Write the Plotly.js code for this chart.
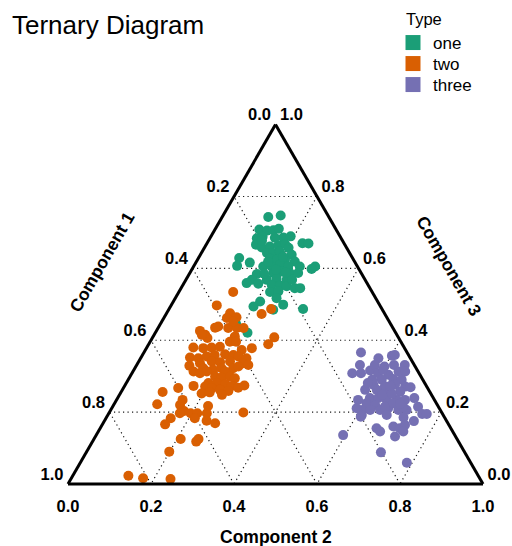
<!DOCTYPE html>
<html>
<head>
<meta charset="utf-8">
<script src="https://cdn.plot.ly/plotly-3.0.1.min.js"></script>
<style>
  html, body { margin: 0; padding: 0; background: #ffffff; }
  #chart { width: 512px; height: 546px; }
</style>
</head>
<body>
<div id="chart"></div>
<script>
// Composition of each sample: Component 1 (bottom-left corner),
// Component 2 (bottom-right corner), Component 3 (top corner).

const typeNames = ["one", "two", "three"];
const typeColors = ["#1b9e77", "#d95f02", "#7570b3"];

// axis ticks, shared by the three sides
const tickPos = [0, 0.2, 0.4, 0.6, 0.8, 1];
const tickLabels = ["0.0", "0.2", "0.4", "0.6", "0.8", "1.0"];
const gridVals = [0.2, 0.4, 0.6, 0.8];

// Type "one"
const oneComp1 = [0.146,0.114,0.185,0.168,0.152,0.137,0.203,0.187,0.138,0.119,0.214,0.204,0.183,0.161,0.143,0.140,0.100,0.086,0.199,0.184,0.166,0.142,0.273,0.200,0.185,0.165,0.144,0.254,0.289,0.227,0.207,0.184,0.167,0.139,0.102,0.114,0.253,0.212,0.190,0.172,0.152,0.273,0.237,0.212,0.189,0.290,0.263,0.232,0.213,0.198,0.181,0.168,0.246,0.225,0.283,0.306,0.232,0.190,0.263,0.372,0.357,0.239,0.194,0.159,0.209,0.166,0.201,0.176,0.235,0.181];
const oneComp2 = [0.111,0.139,0.107,0.127,0.142,0.153,0.113,0.125,0.176,0.192,0.120,0.138,0.156,0.175,0.189,0.203,0.230,0.245,0.158,0.173,0.187,0.220,0.098,0.173,0.191,0.211,0.237,0.130,0.104,0.168,0.188,0.206,0.228,0.256,0.293,0.288,0.163,0.201,0.219,0.241,0.261,0.159,0.195,0.217,0.243,0.151,0.180,0.214,0.235,0.252,0.274,0.287,0.220,0.239,0.209,0.200,0.269,0.323,0.252,0.182,0.222,0.244,0.129,0.156,0.173,0.202,0.203,0.256,0.180,0.231];
const oneComp3 = [0.743,0.747,0.708,0.705,0.706,0.710,0.684,0.688,0.686,0.689,0.666,0.658,0.661,0.664,0.668,0.657,0.670,0.669,0.643,0.643,0.647,0.638,0.629,0.627,0.624,0.624,0.619,0.616,0.607,0.605,0.605,0.610,0.605,0.605,0.605,0.598,0.584,0.587,0.591,0.587,0.587,0.568,0.568,0.571,0.568,0.559,0.557,0.554,0.552,0.550,0.545,0.545,0.534,0.536,0.508,0.494,0.499,0.487,0.485,0.446,0.421,0.517,0.677,0.685,0.618,0.632,0.596,0.568,0.585,0.588];

// Type "two"
const twoComp1 = [0.335,0.393,0.267,0.297,0.372,0.386,0.362,0.419,0.397,0.376,0.360,0.299,0.393,0.323,0.469,0.462,0.428,0.461,0.508,0.485,0.464,0.443,0.412,0.397,0.395,0.368,0.530,0.511,0.488,0.467,0.441,0.422,0.412,0.395,0.514,0.483,0.464,0.439,0.410,0.543,0.513,0.491,0.469,0.441,0.426,0.400,0.541,0.528,0.509,0.465,0.496,0.482,0.460,0.451,0.521,0.501,0.482,0.469,0.601,0.561,0.534,0.520,0.503,0.484,0.456,0.438,0.644,0.552,0.531,0.505,0.674,0.620,0.607,0.619,0.632,0.606,0.590,0.567,0.554,0.661,0.683,0.603,0.578,0.561,0.666,0.632,0.623,0.711,0.843,0.811,0.746,0.478,0.470,0.376];
const twoComp2 = [0.131,0.110,0.246,0.230,0.153,0.152,0.174,0.143,0.169,0.190,0.206,0.293,0.197,0.288,0.105,0.123,0.137,0.133,0.112,0.137,0.156,0.175,0.192,0.207,0.232,0.254,0.118,0.139,0.157,0.174,0.198,0.219,0.233,0.255,0.150,0.176,0.197,0.220,0.254,0.128,0.165,0.191,0.209,0.237,0.247,0.269,0.146,0.164,0.178,0.222,0.205,0.222,0.241,0.255,0.198,0.218,0.240,0.258,0.132,0.166,0.195,0.213,0.235,0.257,0.276,0.288,0.100,0.196,0.214,0.247,0.104,0.160,0.159,0.178,0.171,0.197,0.213,0.236,0.229,0.156,0.151,0.214,0.246,0.270,0.209,0.250,0.252,0.199,0.134,0.173,0.240,0.323,0.115,0.172];
const twoComp3 = [0.534,0.497,0.487,0.473,0.475,0.462,0.464,0.438,0.434,0.434,0.434,0.408,0.410,0.389,0.426,0.415,0.435,0.406,0.380,0.378,0.380,0.382,0.396,0.396,0.373,0.378,0.352,0.350,0.355,0.359,0.361,0.359,0.355,0.350,0.336,0.341,0.339,0.341,0.336,0.329,0.322,0.318,0.322,0.322,0.327,0.331,0.313,0.308,0.313,0.313,0.299,0.296,0.299,0.294,0.281,0.281,0.278,0.273,0.267,0.273,0.271,0.267,0.262,0.259,0.268,0.274,0.256,0.252,0.255,0.248,0.222,0.220,0.234,0.203,0.197,0.197,0.197,0.197,0.217,0.183,0.166,0.183,0.176,0.169,0.125,0.118,0.125,0.090,0.023,0.016,0.014,0.199,0.415,0.452];

// Type "three"
const threeComp1 = [0.111,0.041,0.033,0.077,0.074,0.049,0.023,0.161,0.140,0.114,0.095,0.099,0.076,0.047,0.031,0.099,0.070,0.051,0.126,0.101,0.074,0.052,0.125,0.096,0.071,0.046,0.153,0.133,0.115,0.091,0.071,0.168,0.150,0.188,0.169,0.145,0.123,0.101,0.081,0.184,0.199,0.196,0.129,0.085,0.103,0.049,0.049,0.038,0.136,0.099,0.079,0.179,0.175,0.136,0.123,0.106,0.119,0.146,0.269,0.202,0.154,0.201,0.040,0.131,0.119,0.153,0.094,0.122,0.082,0.087,0.137,0.088];
const threeComp2 = [0.523,0.602,0.608,0.573,0.599,0.620,0.646,0.531,0.552,0.570,0.574,0.593,0.620,0.640,0.656,0.611,0.638,0.659,0.598,0.628,0.650,0.677,0.613,0.647,0.672,0.715,0.608,0.628,0.651,0.675,0.695,0.607,0.630,0.606,0.625,0.649,0.666,0.693,0.713,0.582,0.590,0.612,0.656,0.700,0.672,0.736,0.756,0.767,0.672,0.716,0.746,0.666,0.679,0.704,0.722,0.730,0.735,0.722,0.595,0.710,0.787,0.612,0.691,0.538,0.633,0.585,0.655,0.588,0.600,0.640,0.582,0.689];
const threeComp3 = [0.366,0.357,0.359,0.350,0.327,0.331,0.331,0.308,0.308,0.316,0.331,0.308,0.304,0.313,0.313,0.290,0.292,0.290,0.276,0.271,0.276,0.271,0.262,0.257,0.257,0.239,0.239,0.239,0.234,0.234,0.234,0.225,0.220,0.206,0.206,0.206,0.211,0.206,0.206,0.234,0.211,0.192,0.215,0.215,0.225,0.215,0.195,0.195,0.192,0.185,0.175,0.155,0.146,0.160,0.155,0.164,0.146,0.132,0.136,0.088,0.059,0.187,0.269,0.331,0.248,0.262,0.251,0.290,0.318,0.273,0.281,0.223];

const groups = [
  { comp1: oneComp1, comp2: oneComp2, comp3: oneComp3 },
  { comp1: twoComp1, comp2: twoComp2, comp3: twoComp3 },
  { comp1: threeComp1, comp2: threeComp2, comp3: threeComp3 }
];

const sans = "Liberation Sans, Arial, Helvetica, sans-serif";
const black = "#000000";
const nbsp = "\u00A0";
const legendIds = ["legend", "legend2", "legend3"];

const traces = [];

// sample points (a = Component 3, b = Component 1, c = Component 2)
groups.forEach((g, i) => {
  traces.push({
    type: "scatterternary",
    mode: "markers",
    name: typeNames[i],
    legendgroup: typeNames[i],
    showlegend: false,
    a: g.comp3,
    b: g.comp1,
    c: g.comp2,
    marker: { color: typeColors[i], size: 10, line: { width: 0 } },
    hoverinfo: "a+b+c+name"
  });
});

// legend entries with square swatches, one legend box per type
typeNames.forEach((name, i) => {
  traces.push({
    type: "scatterternary",
    mode: "markers",
    name: name,
    legendgroup: name,
    legend: legendIds[i],
    showlegend: true,
    a: [null], b: [null], c: [null],
    marker: { color: typeColors[i], size: 15, symbol: "square" },
    hoverinfo: "skip"
  });
});

// tick labels along each side, placed at the side's own tick positions
const tickFont = { family: sans, size: 16.5, color: black, weight: "bold" };
const zeros = tickPos.map(() => 0);
// Component 1 along the left side
traces.push({
  type: "scatterternary", mode: "text", showlegend: false, hoverinfo: "skip", cliponaxis: false,
  a: tickPos.map(t => 1 - t), b: tickPos, c: zeros,
  text: tickLabels.map(s => s + nbsp), textposition: "top left", textfont: tickFont
});
// Component 3 along the right side
traces.push({
  type: "scatterternary", mode: "text", showlegend: false, hoverinfo: "skip", cliponaxis: false,
  a: tickPos, b: zeros, c: tickPos.map(t => 1 - t),
  text: tickLabels.map(s => nbsp + s), textposition: "top right", textfont: tickFont
});
// Component 2 along the bottom side
traces.push({
  type: "scatterternary", mode: "markers+text", showlegend: false, hoverinfo: "skip", cliponaxis: false,
  a: zeros, b: tickPos.map(t => 1 - t), c: tickPos,
  marker: { size: 23, opacity: 0 },
  text: tickLabels, textposition: "bottom center", textfont: tickFont
});

function ternAxis() {
  return {
    title: { text: "" },
    tickmode: "array",
    tickvals: gridVals,
    showticklabels: false,
    ticks: "",
    showline: true,
    linecolor: black,
    linewidth: 3,
    showgrid: true,
    gridcolor: "#1a1a1a",
    gridwidth: 1.2,
    griddash: "1.2px,3.3px"
  };
}

const titleFont = { family: sans, size: 17.5, weight: "bold", color: black };

function legendBox(centerY) {
  return {
    font: { family: sans, size: 17, color: black },
    x: 393 / 512, xanchor: "left",
    y: 1 - centerY / 546, yanchor: "middle",
    bgcolor: "rgba(0,0,0,0)",
    borderwidth: 0
  };
}

const layout = {
  width: 512,
  height: 546,
  margin: { l: 0, r: 0, t: 0, b: 0 },
  paper_bgcolor: "#ffffff",
  font: { family: sans, color: black },
  title: {
    text: "Ternary Diagram",
    font: { family: sans, size: 26, color: black },
    x: 12 / 512, xanchor: "left", xref: "paper",
    y: 1 - 25 / 546, yanchor: "middle", yref: "container"
  },
  ternary: {
    domain: { x: [68 / 512, 483 / 512], y: [62 / 546, 421.4 / 546] },
    bgcolor: "#ffffff",
    sum: 1,
    aaxis: ternAxis(),
    baxis: ternAxis(),
    caxis: ternAxis()
  },
  showlegend: true,
  legend: legendBox(43),
  legend2: legendBox(64),
  legend3: legendBox(85),
  annotations: [
    { text: "Type", xref: "paper", yref: "paper", x: 404 / 512, y: 1 - 19 / 546,
      xanchor: "left", yanchor: "middle", showarrow: false,
      font: { family: sans, size: 16.5, color: black } },
    { text: "Component 1", xref: "paper", yref: "paper", x: 102 / 512, y: 1 - 262 / 546,
      xanchor: "center", yanchor: "middle", textangle: -60, showarrow: false, font: titleFont },
    { text: "Component 3", xref: "paper", yref: "paper", x: 449 / 512, y: 1 - 266 / 546,
      xanchor: "center", yanchor: "middle", textangle: 60, showarrow: false, font: titleFont },
    { text: "Component 2", xref: "paper", yref: "paper", x: 275.5 / 512, y: -3 / 546,
      xanchor: "center", yanchor: "bottom", showarrow: false, font: titleFont }
  ]
};

Plotly.newPlot("chart", traces, layout, { displayModeBar: false, staticPlot: true });
</script>
</body>
</html>
